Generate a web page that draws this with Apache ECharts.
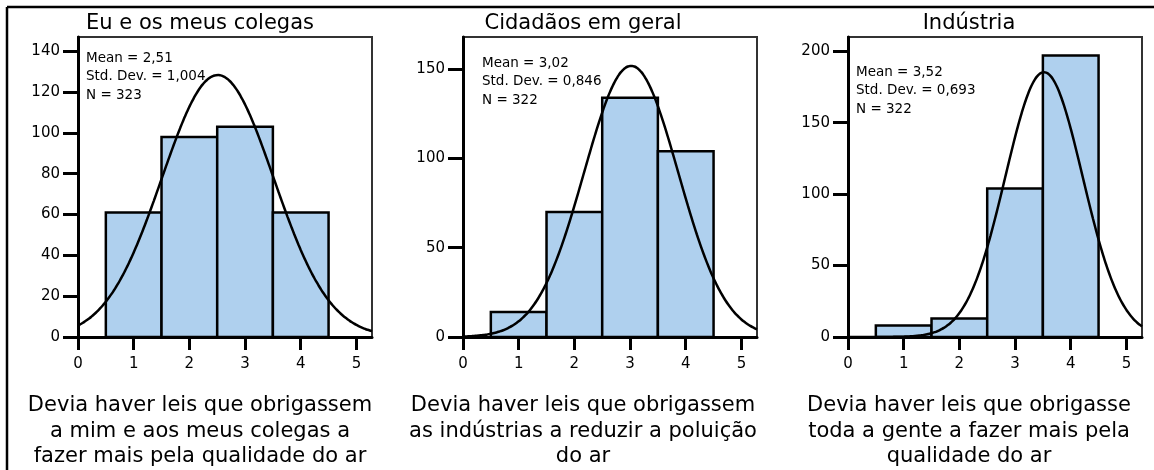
<!DOCTYPE html>
<html>
<head>
<meta charset="utf-8">
<script src="https://cdn.jsdelivr.net/npm/echarts@6/dist/echarts.min.js"></script>
<style>
html, body { margin: 0; padding: 0; background: #fff; }
#chart { width: 1154px; height: 470px; }
</style>
</head>
<body>
<div id="chart"></div>
<script>
// dados
const panelTitles = ['Eu e os meus colegas', 'Cidadãos em geral', 'Indústria'];
const panelNotes = [
  'Devia haver leis que obrigassem\na mim e aos meus colegas a\nfazer mais pela qualidade do ar',
  'Devia haver leis que obrigassem\nas indústrias a reduzir a poluição\ndo ar',
  'Devia haver leis que obrigasse\ntoda a gente a fazer mais pela\nqualidade do ar'
];
const bins = [1, 2, 3, 4];
const countsColegas = [61, 98, 103, 61];
const countsCidadaos = [14, 70, 134, 104];
const countsIndustria = [8, 13, 104, 197];
const means = [2.51, 3.02, 3.52];
const stdDevs = [1.004, 0.846, 0.693];
const totals = [323, 322, 322];
const xTicks = [0, 1, 2, 3, 4, 5];
const yTicksColegas = [0, 20, 40, 60, 80, 100, 120, 140];
const yTicksCidadaos = [0, 50, 100, 150];
const yTicksIndustria = [0, 50, 100, 150, 200];

const counts = [countsColegas, countsCidadaos, countsIndustria];
const yTicks = [yTicksColegas, yTicksCidadaos, yTicksIndustria];
const yMax = [147, 168, 210];
const xMax = 5.28;
const gridLeft = [78, 463, 848];
const textCenter = [200, 583, 969];
const statsPos = [[86, 49], [482, 54], [856, 63]];
const FONT = 'DejaVu Sans';
const barColor = '#afd0ee';

function fmt(v, d) {
  return v.toFixed(d).replace('.', ',');
}

// curva normal a partir da média, desvio padrão e N (largura de classe 1)
function normalCurve(mean, sd, n) {
  const pts = [];
  for (let i = 0; i <= 132; i++) {
    const x = i * 0.04;
    const z = (x - mean) / sd;
    pts.push([x, n / (sd * Math.sqrt(2 * Math.PI)) * Math.exp(-0.5 * z * z)]);
  }
  return pts;
}

const grids = [], xAxes = [], yAxes = [], series = [], graphics = [];

for (let i = 0; i < 3; i++) {
  grids.push({
    left: gridLeft[i], top: 37, width: 294, height: 300,
    show: true, borderColor: '#333', borderWidth: 2
  });
  xAxes.push({
    gridIndex: i, type: 'value', min: 0, max: xMax,
    axisLine: { show: true, onZero: false, lineStyle: { color: '#000', width: 3 } },
    axisTick: { show: true, customValues: xTicks, length: 13, lineStyle: { color: '#000', width: 3 } },
    axisLabel: { customValues: xTicks, margin: 20, fontSize: 15, color: '#000', fontFamily: FONT },
    splitLine: { show: false }
  });
  yAxes.push({
    gridIndex: i, type: 'value', min: 0, max: yMax[i],
    axisLine: { show: true, onZero: false, lineStyle: { color: '#000', width: 3 } },
    axisTick: { show: true, customValues: yTicks[i], length: 15, lineStyle: { color: '#000', width: 3 } },
    axisLabel: { customValues: yTicks[i], margin: 18, fontSize: 15, color: '#000', fontFamily: FONT },
    splitLine: { show: false }
  });
  series.push({
    type: 'custom',
    xAxisIndex: i, yAxisIndex: i,
    data: bins.map((b, k) => [b, counts[i][k]]),
    encode: { x: 0, y: 1 },
    renderItem: function (params, api) {
      const x = api.value(0), y = api.value(1);
      const p0 = api.coord([x - 0.5, y]);
      const p1 = api.coord([x + 0.5, 0]);
      return {
        type: 'rect',
        shape: { x: p0[0], y: p0[1], width: p1[0] - p0[0], height: p1[1] - p0[1] },
        style: { fill: barColor, stroke: '#000', lineWidth: 2.5 }
      };
    },
    z: 2
  });
  series.push({
    type: 'line',
    xAxisIndex: i, yAxisIndex: i,
    data: normalCurve(means[i], stdDevs[i], totals[i]),
    showSymbol: false,
    smooth: true,
    lineStyle: { color: '#000', width: 2.5 },
    z: 3
  });

  graphics.push({
    type: 'text', x: textCenter[i], y: 24,
    style: { text: panelTitles[i], font: '21px "' + FONT + '"', fill: '#000', textAlign: 'center', textVerticalAlign: 'middle' }
  });
  graphics.push({
    type: 'text', x: textCenter[i], y: 393,
    style: { text: panelNotes[i], font: '21px "' + FONT + '"', lineHeight: 25.5, fill: '#000', textAlign: 'center', textVerticalAlign: 'top' }
  });
  graphics.push({
    type: 'text', x: statsPos[i][0], y: statsPos[i][1], z: 10,
    style: {
      text: 'Mean = ' + fmt(means[i], 2) + '\nStd. Dev. = ' + fmt(stdDevs[i], 3) + '\nN = ' + totals[i],
      font: '13.5px "' + FONT + '"', lineHeight: 18.5, fill: '#000', textAlign: 'left', textVerticalAlign: 'top'
    }
  });
}

// cadre extérieur
graphics.push({ type: 'line', shape: { x1: 7, y1: 7, x2: 1154, y2: 7 }, style: { stroke: '#000', lineWidth: 2.5 } });
graphics.push({ type: 'line', shape: { x1: 7, y1: 7, x2: 7, y2: 470 }, style: { stroke: '#000', lineWidth: 2.5 } });

const chart = echarts.init(document.getElementById('chart'));
chart.setOption({
  animation: false,
  backgroundColor: '#fff',
  grid: grids,
  xAxis: xAxes,
  yAxis: yAxes,
  series: series,
  graphic: graphics
});
</script>
</body>
</html>
